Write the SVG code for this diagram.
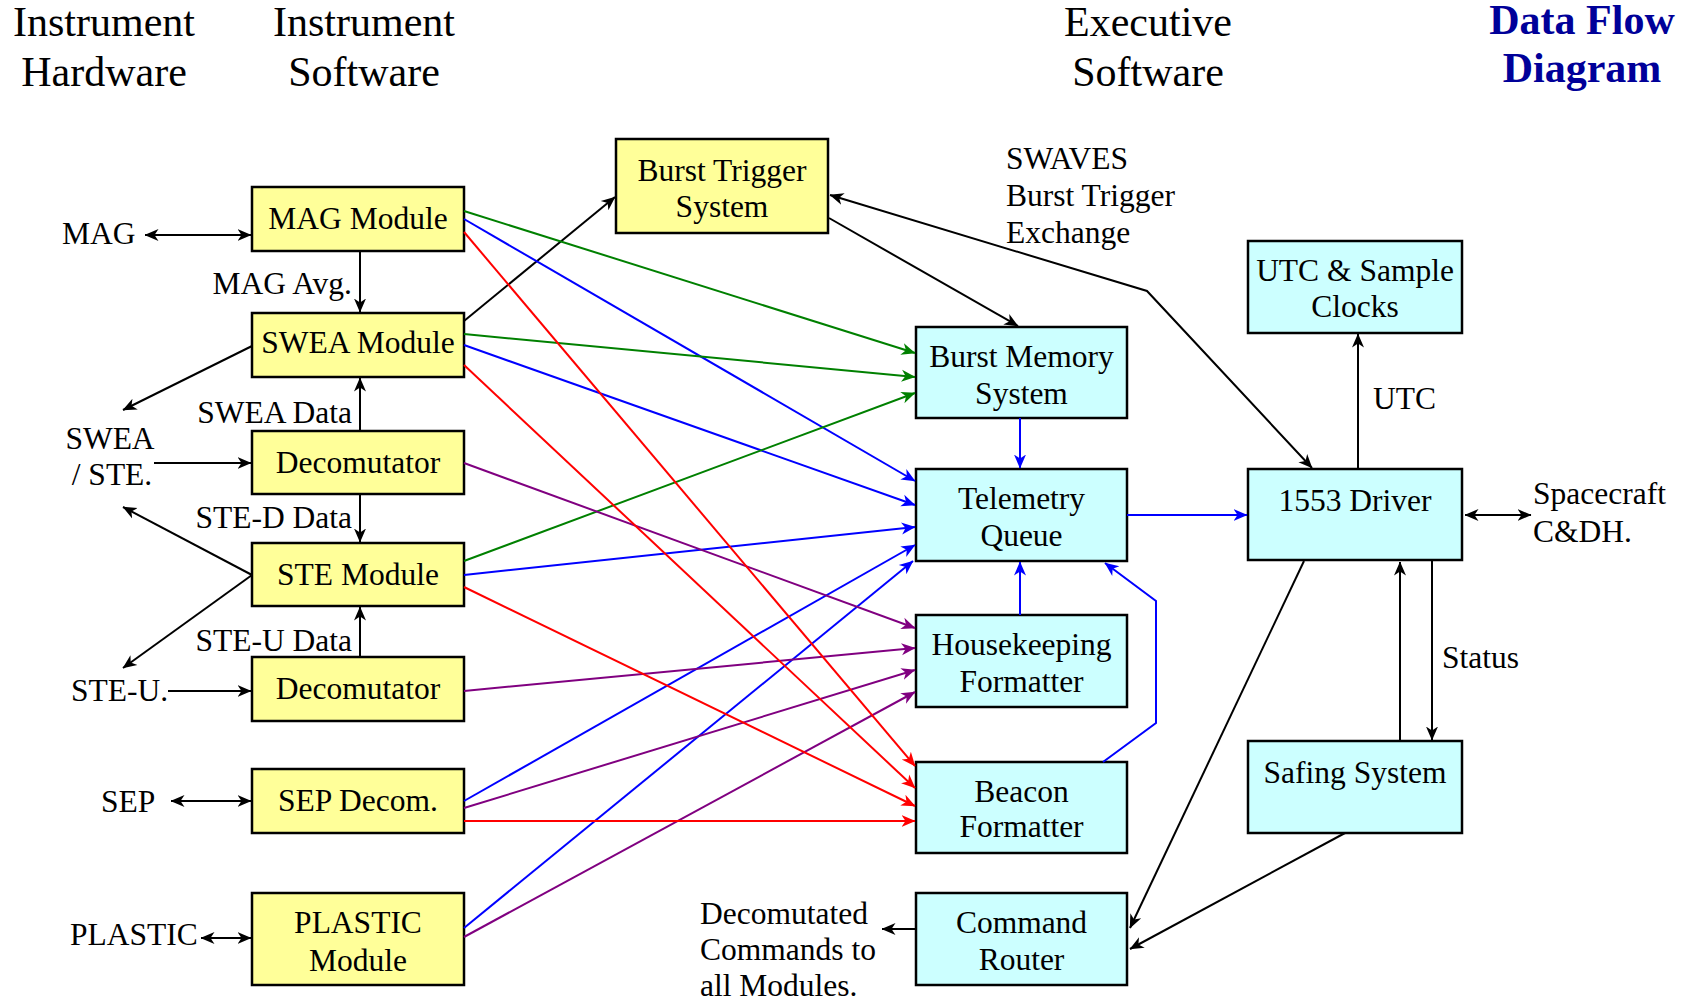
<svg xmlns="http://www.w3.org/2000/svg" width="1683" height="1000" viewBox="0 0 1683 1000">
  <style>
    text { font-family: "Liberation Serif", "Times New Roman", serif; font-size: 31.5px; fill: #000; }
    .c { text-anchor: middle; }
    .e { text-anchor: end; }
    .hdr { font-size: 42px; text-anchor: middle; }
    .title { font-size: 42px; font-weight: bold; fill: #000099; text-anchor: middle; }
    .inst rect { fill: #ffff99; stroke: #000; stroke-width: 2.5; }
    .exec rect { fill: #ccffff; stroke: #000; stroke-width: 2.5; }
    #connectors line, #connectors polyline { fill: none; stroke-width: 2; }
    .k { stroke: #000; marker-end: url(#ak); }
    .kk { stroke: #000; marker-start: url(#ak); marker-end: url(#ak); }
    .b { stroke: #0000ff; marker-end: url(#ab); }
    .g { stroke: #008000; marker-end: url(#ag); }
    .p { stroke: #800080; marker-end: url(#ap); }
    .r { stroke: #ff0000; marker-end: url(#ar); }
  </style>
  <defs>
    <marker id="ak" viewBox="0 0 14 14" refX="13.5" refY="7" markerWidth="14" markerHeight="14" markerUnits="userSpaceOnUse" orient="auto-start-reverse">
      <path d="M0,1 L14,7 L0,13 L4,7 z" fill="#000"/>
    </marker>
    <marker id="ab" viewBox="0 0 14 14" refX="13.5" refY="7" markerWidth="14" markerHeight="14" markerUnits="userSpaceOnUse" orient="auto">
      <path d="M0,1 L14,7 L0,13 L4,7 z" fill="#0000ff"/>
    </marker>
    <marker id="ag" viewBox="0 0 14 14" refX="13.5" refY="7" markerWidth="14" markerHeight="14" markerUnits="userSpaceOnUse" orient="auto">
      <path d="M0,1 L14,7 L0,13 L4,7 z" fill="#008000"/>
    </marker>
    <marker id="ap" viewBox="0 0 14 14" refX="13.5" refY="7" markerWidth="14" markerHeight="14" markerUnits="userSpaceOnUse" orient="auto">
      <path d="M0,1 L14,7 L0,13 L4,7 z" fill="#800080"/>
    </marker>
    <marker id="ar" viewBox="0 0 14 14" refX="13.5" refY="7" markerWidth="14" markerHeight="14" markerUnits="userSpaceOnUse" orient="auto">
      <path d="M0,1 L14,7 L0,13 L4,7 z" fill="#ff0000"/>
    </marker>
  </defs>

  <rect width="1683" height="1000" fill="#fff"/>

  <!-- column headings and title -->
  <g id="headings">
    <text class="hdr" x="104" y="36">Instrument</text>
    <text class="hdr" x="104" y="86">Hardware</text>
    <text class="hdr" x="364" y="36">Instrument</text>
    <text class="hdr" x="364" y="86">Software</text>
    <text class="hdr" x="1148" y="36">Executive</text>
    <text class="hdr" x="1148" y="86">Software</text>
    <text class="title" x="1582" y="34">Data Flow</text>
    <text class="title" x="1582" y="82">Diagram</text>
  </g>

  <!-- external labels and connector captions -->
  <g id="labels">
    <text x="62" y="244">MAG</text>
    <text class="e" x="352" y="294">MAG Avg.</text>
    <text class="e" x="352" y="423">SWEA Data</text>
    <text class="c" x="110" y="449">SWEA</text>
    <text class="c" x="112" y="485">/ STE.</text>
    <text class="e" x="352" y="528">STE-D Data</text>
    <text class="e" x="352" y="651">STE-U Data</text>
    <text x="71" y="701">STE-U.</text>
    <text x="101" y="812">SEP</text>
    <text x="70" y="945">PLASTIC</text>
    <text x="1006" y="169">SWAVES</text>
    <text x="1006" y="206">Burst Trigger</text>
    <text x="1006" y="243">Exchange</text>
    <text x="1373" y="409">UTC</text>
    <text x="1533" y="504">Spacecraft</text>
    <text x="1533" y="542">C&amp;DH.</text>
    <text x="1442" y="668">Status</text>
    <text x="700" y="924">Decomutated</text>
    <text x="700" y="960">Commands to</text>
    <text x="700" y="996">all Modules.</text>
  </g>

  <!-- instrument software modules -->
  <g id="mag-module" class="inst"><rect x="252" y="187" width="212" height="64"/><text class="c" x="358" y="229">MAG Module</text></g>
  <g id="swea-module" class="inst"><rect x="252" y="313" width="212" height="64"/><text class="c" x="358" y="353">SWEA Module</text></g>
  <g id="decomutator-swea" class="inst"><rect x="252" y="431" width="212" height="63"/><text class="c" x="358" y="473">Decomutator</text></g>
  <g id="ste-module" class="inst"><rect x="252" y="543" width="212" height="63"/><text class="c" x="358" y="585">STE Module</text></g>
  <g id="decomutator-steu" class="inst"><rect x="252" y="657" width="212" height="64"/><text class="c" x="358" y="699">Decomutator</text></g>
  <g id="sep-decom" class="inst"><rect x="252" y="769" width="212" height="64"/><text class="c" x="358" y="811">SEP Decom.</text></g>
  <g id="plastic-module" class="inst"><rect x="252" y="893" width="212" height="92"/><text class="c" x="358" y="933">PLASTIC</text><text class="c" x="358" y="971">Module</text></g>
  <g id="burst-trigger" class="inst"><rect x="616" y="139" width="212" height="94"/><text class="c" x="722" y="181">Burst Trigger</text><text class="c" x="722" y="217">System</text></g>

  <!-- executive software tasks -->
  <g id="burst-memory" class="exec"><rect x="916" y="327" width="211" height="91"/><text class="c" x="1021.5" y="367">Burst Memory</text><text class="c" x="1021.5" y="404">System</text></g>
  <g id="telemetry-queue" class="exec"><rect x="916" y="469" width="211" height="92"/><text class="c" x="1021.5" y="509">Telemetry</text><text class="c" x="1021.5" y="546">Queue</text></g>
  <g id="housekeeping" class="exec"><rect x="916" y="615" width="211" height="92"/><text class="c" x="1021.5" y="655">Housekeeping</text><text class="c" x="1021.5" y="692">Formatter</text></g>
  <g id="beacon" class="exec"><rect x="916" y="762" width="211" height="91"/><text class="c" x="1021.5" y="802">Beacon</text><text class="c" x="1021.5" y="837">Formatter</text></g>
  <g id="command-router" class="exec"><rect x="916" y="893" width="211" height="92"/><text class="c" x="1021.5" y="933">Command</text><text class="c" x="1021.5" y="970">Router</text></g>
  <g id="utc-clocks" class="exec"><rect x="1248" y="241" width="214" height="92"/><text class="c" x="1355" y="281">UTC &amp; Sample</text><text class="c" x="1355" y="317">Clocks</text></g>
  <g id="driver-1553" class="exec"><rect x="1248" y="469" width="214" height="91"/><text class="c" x="1355" y="511">1553 Driver</text></g>
  <g id="safing" class="exec"><rect x="1248" y="741" width="214" height="92"/><text class="c" x="1355" y="783">Safing System</text></g>

  <g id="connectors">
    <!-- instrument side, black -->
    <line class="kk" x1="145" y1="235" x2="251" y2="235"/>
    <line class="k" x1="360" y1="251" x2="360" y2="312"/>
    <line class="k" x1="360" y1="431" x2="360" y2="378"/>
    <line class="k" x1="360" y1="494" x2="360" y2="542"/>
    <line class="k" x1="360" y1="657" x2="360" y2="607"/>
    <line class="k" x1="252" y1="346" x2="123" y2="410"/>
    <line class="k" x1="154" y1="463" x2="251" y2="463"/>
    <line class="k" x1="252" y1="575" x2="123" y2="507"/>
    <line class="k" x1="252" y1="575" x2="123" y2="668"/>
    <line class="k" x1="168" y1="691" x2="251" y2="691"/>
    <line class="kk" x1="171" y1="801" x2="251" y2="801"/>
    <line class="kk" x1="201" y1="938" x2="251" y2="938"/>
    <line class="k" x1="464" y1="321" x2="615" y2="197"/>
    <line class="k" x1="829" y1="218" x2="1018" y2="326"/>
    <polyline class="kk" points="830,195 1147,291 1312,468"/>
    <!-- executive side, black -->
    <line class="k" x1="1358" y1="469" x2="1358" y2="334"/>
    <line class="kk" x1="1465" y1="515" x2="1531" y2="515"/>
    <line class="k" x1="1400" y1="741" x2="1400" y2="562"/>
    <line class="k" x1="1432" y1="561" x2="1432" y2="740"/>
    <line class="k" x1="1304" y1="561" x2="1130" y2="928"/>
    <line class="k" x1="1345" y1="833" x2="1130" y2="949"/>
    <line class="k" x1="916" y1="929" x2="882" y2="929"/>
    <!-- telemetry path, blue -->
    <line class="b" x1="1020" y1="418" x2="1020" y2="468"/>
    <line class="b" x1="1020" y1="615" x2="1020" y2="562"/>
    <line class="b" x1="1127" y1="515" x2="1247" y2="515"/>
    <polyline class="b" points="1103,762 1156,723 1156,601 1105,563"/>
    <line class="b" x1="464" y1="219" x2="915" y2="481"/>
    <line class="b" x1="464" y1="345" x2="915" y2="505"/>
    <line class="b" x1="464" y1="575" x2="915" y2="527"/>
    <line class="b" x1="464" y1="801" x2="915" y2="545"/>
    <line class="b" x1="464" y1="928" x2="913" y2="561"/>
    <!-- burst data, green -->
    <line class="g" x1="464" y1="211" x2="915" y2="353"/>
    <line class="g" x1="464" y1="334" x2="915" y2="377"/>
    <line class="g" x1="464" y1="561" x2="915" y2="393"/>
    <!-- housekeeping, purple -->
    <line class="p" x1="464" y1="463" x2="915" y2="628"/>
    <line class="p" x1="464" y1="691" x2="915" y2="648"/>
    <line class="p" x1="464" y1="808" x2="915" y2="670"/>
    <line class="p" x1="464" y1="937" x2="915" y2="692"/>
    <!-- beacon, red -->
    <line class="r" x1="464" y1="232" x2="915" y2="766"/>
    <line class="r" x1="464" y1="365" x2="915" y2="788"/>
    <line class="r" x1="464" y1="587" x2="915" y2="806"/>
    <line class="r" x1="464" y1="821" x2="915" y2="821"/>
  </g>
</svg>
